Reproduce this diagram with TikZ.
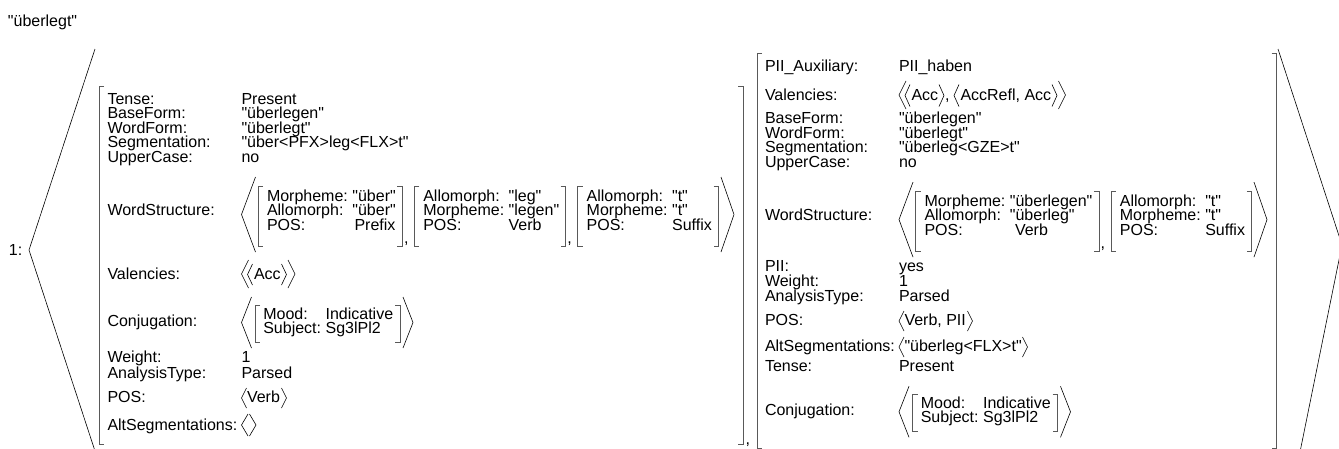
\documentclass[tikz,border=0pt]{standalone}
\usepackage{fontspec}
\setmainfont{Liberation Sans}[Ligatures=TeXOff]
\newcommand\avmfont{\fontsize{16}{16}\selectfont}
\tikzset{
  tx/.style={anchor=base west, inner sep=0pt, outer sep=0pt, font=\avmfont},
  brk/.style={draw=black!65, line width=0.8pt},
  ang/.style={draw=black, line width=0.6pt},
}
% angle brackets: tip x, top y, bottom y, width
\newcommand\angl[4]{\draw[ang] ({#1+#4},#2) -- (#1,{(#2+#3)/2}) -- ({#1+#4},#3);}
\newcommand\angr[4]{\draw[ang] ({#1-#4},#2) -- (#1,{(#2+#3)/2}) -- ({#1-#4},#3);}
% square brackets: x, top y, bottom y
\newcommand\brl[3]{\draw[brk] ({#1+5},#2) -- (#1,#2) -- (#1,#3) -- ({#1+5},#3);}
\newcommand\brr[3]{\draw[brk] ({#1-5},#2) -- (#1,#2) -- (#1,#3) -- ({#1-5},#3);}
\begin{document}
\begin{tikzpicture}[x=1pt,y=-1pt]
\useasboundingbox (0,0) rectangle (1339,448);

\node[tx] (title) at (8,26) {"überlegt"};
\node[tx] (one) at (9,255.5) {1:};

% outer angle brackets
\draw[ang] (95,49) -- (29,250) -- (95,451);
\draw[ang] (1278,49) -- (1342,245) -- (1300,452);

% ================= AVM 1 =================
\brl{99}{86}{444}
\brr{743}{86}{444}
\node[tx] (a1l) at (107.5,104) {Tense:};          \node[tx] (a1v) at (241.5,104) {Present};
\node[tx] (a2l) at (107.5,118.6) {BaseForm:};     \node[tx] (a2v) at (241.5,118.6) {"überlegen"};
\node[tx] (a3l) at (107.5,133.2) {WordForm:};     \node[tx] (a3v) at (241.5,133.2) {"überlegt"};
\node[tx] (a4l) at (107.5,147.8) {Segmentation:}; \node[tx] (a4v) at (241.5,147.8) {"über<PFX>leg<FLX>t"};
\node[tx] (a5l) at (107.5,162.4) {UpperCase:};    \node[tx] (a5v) at (241.5,162.4) {no};
% WordStructure
\node[tx] (a6l) at (107.5,215.6) {WordStructure:};
\angl{241.5}{177}{252}{14}
\brl{258}{186}{246}
\node[tx] (w1a) at (267,201) {Morpheme:};   \node[tx] (w1av) at (352.4,201) {"über"};
\node[tx] (w1b) at (267,215.6) {Allomorph:}; \node[tx] (w1bv) at (352.4,215.6) {"über"};
\node[tx] (w1c) at (267,230.2) {POS:};       \node[tx] (w1cv) at (354.5,230.2) {Prefix};
\brr{402.3}{186}{246}
\node[tx] (c1) at (404,243.5) {,};
\brl{414.3}{186}{246}
\node[tx] (w2a) at (423.3,201) {Allomorph:};  \node[tx] (w2av) at (508.7,201) {"leg"};
\node[tx] (w2b) at (423.3,215.6) {Morpheme:}; \node[tx] (w2bv) at (508.7,215.6) {"legen"};
\node[tx] (w2c) at (423.3,230.2) {POS:};      \node[tx] (w2cv) at (508.7,230.2) {Verb};
\brr{565.7}{186}{246}
\node[tx] (c2) at (567.4,243.5) {,};
\brl{577.7}{186}{246}
\node[tx] (w3a) at (586.7,201) {Allomorph:};  \node[tx] (w3av) at (672.1,201) {"t"};
\node[tx] (w3b) at (586.7,215.6) {Morpheme:}; \node[tx] (w3bv) at (672.1,215.6) {"t"};
\node[tx] (w3c) at (586.7,230.2) {POS:};      \node[tx] (w3cv) at (672.1,230.2) {Suffix};
\brr{718.6}{186}{246}
\angr{734}{177}{252}{13}
% Valencies
\node[tx] (a7l) at (107.5,279.5) {Valencies:};
\angl{241.5}{260}{288}{7}
\angl{247.5}{264}{285}{5}
\node[tx] (a7v) at (254,279.5) {Acc};
\angr{286.5}{264}{285}{5}
\angr{295}{260}{288}{7}
% Conjugation
\node[tx] (a8l) at (107.5,326.3) {Conjugation:};
\angl{241.5}{297}{348}{10}
\brl{255}{305}{342}
\node[tx] (k1a) at (263.3,319) {Mood:};      \node[tx] (k1av) at (325.6,319) {Indicative};
\node[tx] (k1b) at (263.3,333.6) {Subject:}; \node[tx] (k1bv) at (325.6,333.6) {Sg3lPl2};
\brr{400}{305}{342}
\angr{413}{297}{348}{10}
% rest
\node[tx] (a9l) at (107.5,362.7) {Weight:};        \node[tx] (a9v) at (241.5,362.7) {1};
\node[tx] (a10l) at (107.5,378) {AnalysisType:};   \node[tx] (a10v) at (241.5,378) {Parsed};
\node[tx] (a11l) at (107.5,402) {POS:};
\angl{241.5}{388}{408}{5}
\node[tx] (a11v) at (247,402) {Verb};
\angr{286.5}{388}{408}{5}
\node[tx] (a12l) at (107.5,430) {AltSegmentations:};
\angl{241.5}{414}{436}{6.5}
\angr{256}{414}{436}{6.5}

\node[tx] (cmain) at (745.5,444) {,};

% ================= AVM 2 =================
\brl{757}{53}{448}
\brr{1276.5}{53}{448}
\node[tx] (b1l) at (765,71) {PII\_Auxiliary:}; \node[tx] (b1v) at (899,71) {PII\_haben};
\node[tx] (b2l) at (765,100.5) {Valencies:};
\angl{899}{81}{109}{7}
\angl{905}{84.5}{106.5}{5}
\node[tx] (b2v1) at (911.5,100.5) {Acc};
\angr{944}{84.5}{106.5}{5}
\node[tx] (b2c) at (945,100.5) {,};
\angl{954}{84.5}{106.5}{5}
\node[tx] (b2v2) at (960.5,100.5) {AccRefl, Acc};
\angr{1057}{84.5}{106.5}{5}
\angr{1065.5}{81}{109}{7}
\node[tx] (b3l) at (765,123.7) {BaseForm:};       \node[tx] (b3v) at (899,123.7) {"überlegen"};
\node[tx] (b4l) at (765,138.3) {WordForm:};       \node[tx] (b4v) at (899,138.3) {"überlegt"};
\node[tx] (b5l) at (765,152.9) {Segmentation:};   \node[tx] (b5v) at (899,152.9) {"überleg<GZE>t"};
\node[tx] (b6l) at (765,167.5) {UpperCase:};      \node[tx] (b6v) at (899,167.5) {no};
% WordStructure
\node[tx] (b7l) at (765,220.7) {WordStructure:};
\angl{899}{182.1}{257.1}{14}
\brl{915.5}{191.1}{251.1}
\node[tx] (v1a) at (924.5,206.1) {Morpheme:};   \node[tx] (v1av) at (1009.9,206.1) {"überlegen"};
\node[tx] (v1b) at (924.5,220.7) {Allomorph:}; \node[tx] (v1bv) at (1009.9,220.7) {"überleg"};
\node[tx] (v1c) at (924.5,235.3) {POS:};       \node[tx] (v1cv) at (1015,235.3) {Verb};
\brr{1098.9}{191.1}{251.1}
\node[tx] (c3) at (1100.6,248.6) {,};
\brl{1110.9}{191.1}{251.1}
\node[tx] (v2a) at (1119.9,206.1) {Allomorph:};  \node[tx] (v2av) at (1205.3,206.1) {"t"};
\node[tx] (v2b) at (1119.9,220.7) {Morpheme:}; \node[tx] (v2bv) at (1205.3,220.7) {"t"};
\node[tx] (v2c) at (1119.9,235.3) {POS:};      \node[tx] (v2cv) at (1205.3,235.3) {Suffix};
\brr{1251.8}{191.1}{251.1}
\angr{1267}{182.1}{257.1}{13}
% rest
\node[tx] (b8l) at (765,271.8) {PII:};             \node[tx] (b8v) at (899,271.8) {yes};
\node[tx] (b9l) at (765,286.4) {Weight:};          \node[tx] (b9v) at (899,286.4) {1};
\node[tx] (b10l) at (765,301) {AnalysisType:};     \node[tx] (b10v) at (899,301) {Parsed};
\node[tx] (b11l) at (765,325) {POS:};
\angl{899}{311}{331}{5}
\node[tx] (b11v) at (904.5,325) {Verb, PII};
\angr{972.5}{311}{331}{5}
\node[tx] (b12l) at (765,351) {AltSegmentations:};
\angl{899}{337}{357}{5}
\node[tx] (b12v) at (904.5,351) {"überleg<FLX>t"};
\angr{1027.5}{337}{357}{5}
\node[tx] (b13l) at (765,371.7) {Tense:};          \node[tx] (b13v) at (899,371.7) {Present};
% Conjugation
\node[tx] (b14l) at (765,415.6) {Conjugation:};
\angl{899}{386.3}{437.3}{10}
\brl{912.5}{394.3}{431.3}
\node[tx] (m1a) at (920.8,408.3) {Mood:};      \node[tx] (m1av) at (983.1,408.3) {Indicative};
\node[tx] (m1b) at (920.8,422.9) {Subject:}; \node[tx] (m1bv) at (983.1,422.9) {Sg3lPl2};
\brr{1057.5}{394.3}{431.3}
\angr{1070.5}{386.3}{437.3}{10}
\end{tikzpicture}
\end{document}
